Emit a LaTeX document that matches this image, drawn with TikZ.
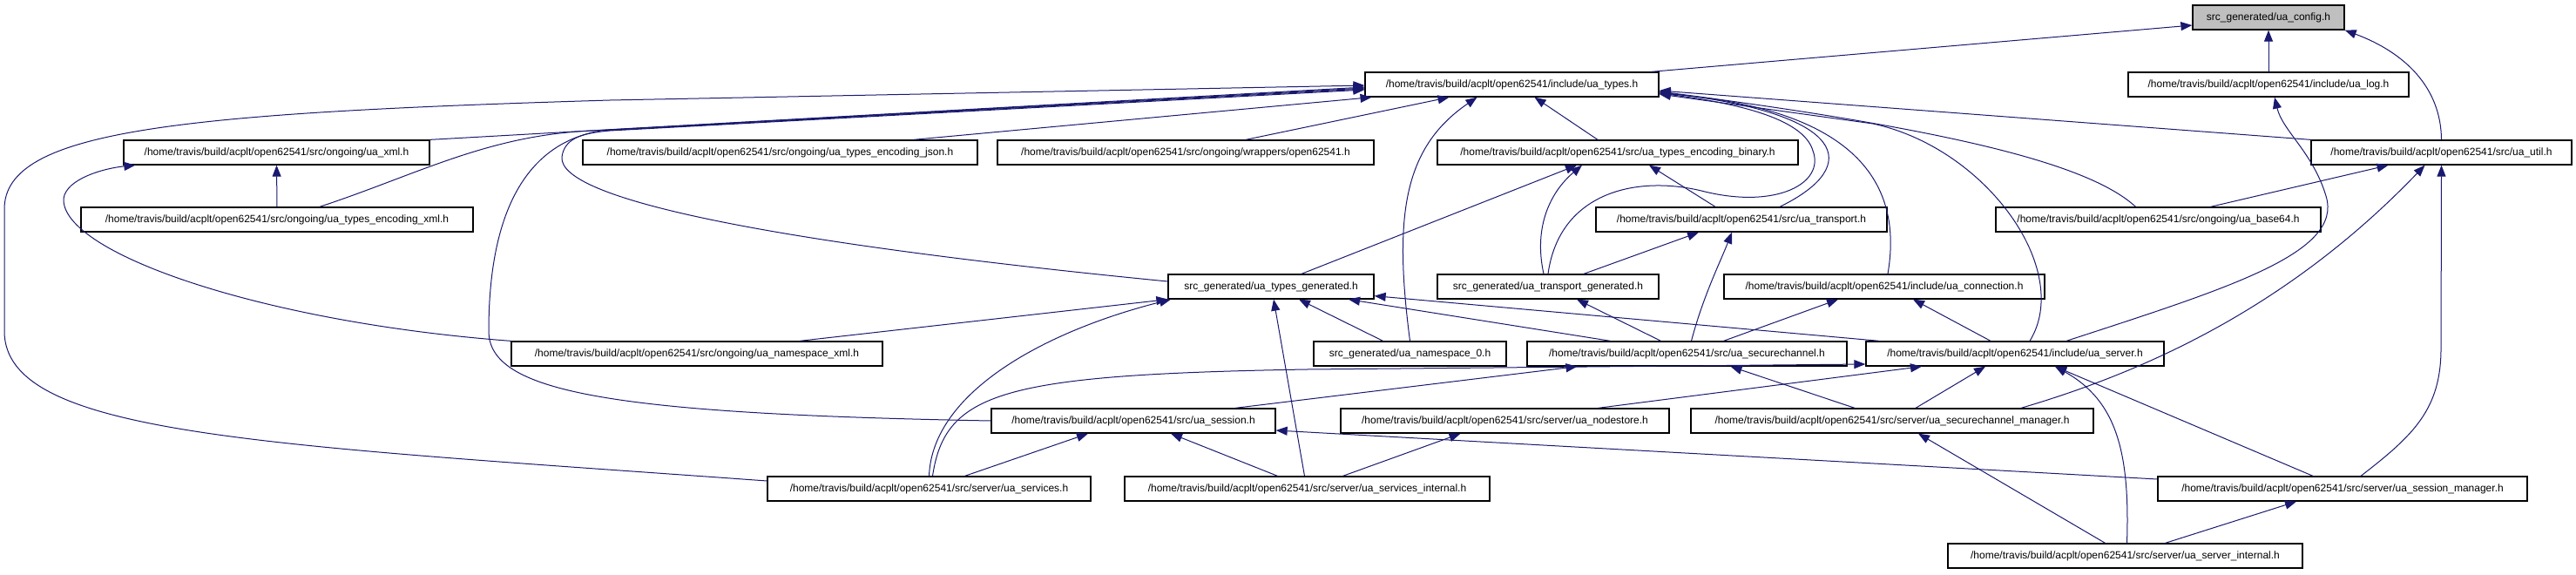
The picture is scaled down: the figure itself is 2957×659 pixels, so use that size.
\documentclass[tikz,border=0pt]{standalone}
\usepackage{fontspec}
\setmainfont{Liberation Sans}
\usepackage{tikz}
\usetikzlibrary{arrows.meta}
\definecolor{incblue}{RGB}{25,25,112}
\definecolor{cfggray}{RGB}{191,191,191}
\tikzset{
  file/.style={draw=black, line width=1.3pt, fill=white, minimum height=28pt,
    inner sep=0pt, font=\fontsize{12}{14}\selectfont},
  inc/.style={draw=incblue, line width=1pt, -{Triangle[length=13pt,width=10pt]}}
}

\begin{document}
\begin{tikzpicture}[x=1pt,y=-1pt]
  \useasboundingbox (0,0) rectangle (2957,659);
  \node[file, fill=cfggray, minimum width=174pt] (config) at (2604,20) {src\_generated/ua\_config.h};
  \node[file, minimum width=337pt] (types) at (1735.5,97) {/home/travis/build/acplt/open62541/include/ua\_types.h};
  \node[file, minimum width=322pt] (log) at (2604,97) {/home/travis/build/acplt/open62541/include/ua\_log.h};
  \node[file, minimum width=351pt] (xml) at (317.5,175) {/home/travis/build/acplt/open62541/src/ongoing/ua\_xml.h};
  \node[file, minimum width=453pt] (json) at (895.5,175) {/home/travis/build/acplt/open62541/src/ongoing/ua\_types\_encoding\_json.h};
  \node[file, minimum width=432pt] (wrappers) at (1361,175) {/home/travis/build/acplt/open62541/src/ongoing/wrappers/open62541.h};
  \node[file, minimum width=414pt] (binary) at (1857,175) {/home/travis/build/acplt/open62541/src/ua\_types\_encoding\_binary.h};
  \node[file, minimum width=299pt] (util) at (2802.5,175) {/home/travis/build/acplt/open62541/src/ua\_util.h};
  \node[file, minimum width=450pt] (encxml) at (318,252) {/home/travis/build/acplt/open62541/src/ongoing/ua\_types\_encoding\_xml.h};
  \node[file, minimum width=334pt] (transport) at (1999,252) {/home/travis/build/acplt/open62541/src/ua\_transport.h};
  \node[file, minimum width=373pt] (base64) at (2477.5,252) {/home/travis/build/acplt/open62541/src/ongoing/ua\_base64.h};
  \node[file, minimum width=236pt] (typesgen) at (1459,329) {src\_generated/ua\_types\_generated.h};
  \node[file, minimum width=254pt] (transgen) at (1777,329) {src\_generated/ua\_transport\_generated.h};
  \node[file, minimum width=368pt] (connection) at (2163,329) {/home/travis/build/acplt/open62541/include/ua\_connection.h};
  \node[file, minimum width=426pt] (nsxml) at (800,406) {/home/travis/build/acplt/open62541/src/ongoing/ua\_namespace\_xml.h};
  \node[file, minimum width=221pt] (ns0) at (1618.5,406) {src\_generated/ua\_namespace\_0.h};
  \node[file, minimum width=367pt] (secch) at (1936.5,406) {/home/travis/build/acplt/open62541/src/ua\_securechannel.h};
  \node[file, minimum width=342pt] (server) at (2313,406) {/home/travis/build/acplt/open62541/include/ua\_server.h};
  \node[file, minimum width=326pt] (session) at (1301,483) {/home/travis/build/acplt/open62541/src/ua\_session.h};
  \node[file, minimum width=377pt] (nodestore) at (1727.5,483) {/home/travis/build/acplt/open62541/src/server/ua\_nodestore.h};
  \node[file, minimum width=462pt] (scmgr) at (2172,483) {/home/travis/build/acplt/open62541/src/server/ua\_securechannel\_manager.h};
  \node[file, minimum width=371pt] (services) at (1066.5,561) {/home/travis/build/acplt/open62541/src/server/ua\_services.h};
  \node[file, minimum width=419pt] (svcint) at (1500.5,561) {/home/travis/build/acplt/open62541/src/server/ua\_services\_internal.h};
  \node[file, minimum width=424pt] (sessmgr) at (2689,561) {/home/travis/build/acplt/open62541/src/server/ua\_session\_manager.h};
  \node[file, minimum width=407pt] (srvint) at (2439.5,638) {/home/travis/build/acplt/open62541/src/server/ua\_server\_internal.h};

  \draw[inc] ([xshift=160pt]types.north) -- ([yshift=-9pt]config.west);
  \draw[inc] (log.north) -- (config.south);
  \draw[inc] (util.north) .. controls (2802,100) and (2760,60) .. (config.south east);

  \draw[inc] (xml.north east) -- ([yshift=-3pt]types.west);
  \draw[inc] ([xshift=49pt]encxml.north) .. controls (480,200) and (560,155) .. (680,150) -- ([yshift=-4pt]types.west);
  \draw[inc] (encxml.north) -- (xml.south);
  \draw[inc] (nsxml.north west) .. controls (300,370) and (70,290) .. (73,228) .. controls (76,205) and (120,193) .. ([xshift=14pt]xml.south west);
  \draw[inc] ([yshift=9pt]services.west) .. controls (300,510) and (5,500) .. (5,380) -- (5,240) .. controls (5,150) and (200,130) .. (700,115) -- ([yshift=-1pt]types.west);
  \draw[inc] (session.west) .. controls (700,475) and (561,450) .. (561,380) .. controls (561,250) and (600,165) .. (690,150) -- ([yshift=-5pt]types.west);
  \draw[inc] ([yshift=6pt]typesgen.west) .. controls (900,280) and (640,230) .. (645,180) .. controls (648,160) and (665,153) .. (700,150) -- ([yshift=-6pt]types.west);
  \draw[inc] ([xshift=153pt]json.north) -- ([xshift=-161pt]types.south);
  \draw[inc] ([xshift=69pt]wrappers.north) -- ([xshift=-72pt]types.south);
  \draw[inc] ([xshift=-23pt]binary.north) -- ([xshift=26pt]types.south);
  \draw[inc] (ns0.north) .. controls (1600,250) and (1610,170) .. ([xshift=-40pt]types.south);
  \draw[inc] (transgen.north) .. controls (1790,220) and (1880,200) .. (1957,220) .. controls (2040,240) and (2095,210) .. (2081,173) .. controls (2070,135) and (1990,118) .. ([yshift=-10pt]types.east);
  \draw[inc] ([xshift=44pt]transport.north) .. controls (2140,190) and (2120,130) .. ([yshift=-9pt]types.east);
  \draw[inc] ([xshift=4pt]connection.north) .. controls (2185,210) and (2130,125) .. ([yshift=-10pt]types.east);
  \draw[inc] ([xshift=17pt]server.north) .. controls (2380,310) and (2280,170) .. (2150,142) -- ([yshift=-11pt]types.east);
  \draw[inc] ([xshift=-26pt]base64.north) .. controls (2400,190) and (2250,150) .. ([yshift=-8pt]types.east);
  \draw[inc] (util.north west) -- ([yshift=-7pt]types.east);
  \draw[inc] ([xshift=60pt]base64.north) -- ([xshift=-61pt]util.south);
  \draw[inc] ([xshift=59pt]server.north) .. controls (2560,330) and (2690,290) .. (2670,225) .. controls (2655,175) and (2620,150) .. ([xshift=7pt]log.south);
  \draw[inc] ([xshift=148pt]scmgr.north) .. controls (2450,430) and (2620,360) .. ([xshift=-19pt]util.south);
  \draw[inc] ([xshift=21pt]sessmgr.north) .. controls (2770,500) and (2802,470) .. (2802,400) -- (util.south);

  \draw[inc] ([xshift=35pt]typesgen.north) -- ([xshift=-47pt]binary.south);
  \draw[inc] ([xshift=-5pt]transgen.north) .. controls (1760,260) and (1780,220) .. ([xshift=-41pt]binary.south);
  \draw[inc] ([xshift=41pt]transgen.north) -- ([xshift=-49pt]transport.south);
  \draw[inc] ([xshift=-30pt]transport.north) -- ([xshift=36pt]binary.south);
  \draw[inc] ([xshift=5pt]secch.north) .. controls (1955,340) and (1975,300) .. ([xshift=-11pt]transport.south);

  \draw[inc] ([xshift=118pt]nsxml.north) -- (typesgen.south west);
  \draw[inc] (services.north) .. controls (1070,450) and (1200,380) .. ([xshift=-115pt]typesgen.south);
  \draw[inc] ([xshift=-3pt]svcint.north) -- ([xshift=3pt]typesgen.south);
  \draw[inc] ([xshift=-31pt]ns0.north) -- ([xshift=32pt]typesgen.south);
  \draw[inc] ([xshift=-88pt]secch.north) -- ([xshift=89pt]typesgen.south);
  \draw[inc] ([xshift=16pt]server.north west) -- ([yshift=4pt]typesgen.south east);
  \draw[inc] ([xshift=-30pt]secch.north) -- ([xshift=33pt]transgen.south);
  \draw[inc] ([xshift=42pt]secch.north) -- ([xshift=-53pt]connection.south);
  \draw[inc] ([xshift=-28pt]server.north) -- ([xshift=33pt]connection.south);

  \draw[inc] ([xshift=117pt]session.north) -- ([xshift=-126pt]secch.south);
  \draw[inc] ([xshift=-43pt]scmgr.north) -- ([xshift=50pt]secch.south);
  \draw[inc] ([xshift=4pt]services.north) .. controls (1085,450) and (1150,430) .. (1500,424) -- ([yshift=-12pt]server.west);
  \draw[inc] ([xshift=107pt]nodestore.north) -- ([xshift=-107pt]server.south);
  \draw[inc] ([xshift=27pt]scmgr.north) -- ([xshift=-34pt]server.south);
  \draw[inc] ([xshift=2pt]srvint.north) .. controls (2445,520) and (2430,460) .. ([xshift=46pt]server.south);
  \draw[inc] ([xshift=-34pt]sessmgr.north) -- ([xshift=46pt]server.south);

  \draw[inc] ([xshift=41pt]services.north) -- ([xshift=-52pt]session.south);
  \draw[inc] ([xshift=-34pt]svcint.north) -- ([xshift=43pt]session.south);
  \draw[inc] ([yshift=11pt]sessmgr.west) -- ([yshift=-11pt]session.east);
  \draw[inc] ([xshift=41pt]svcint.north) -- ([xshift=-51pt]nodestore.south);
  \draw[inc] ([xshift=-23pt]srvint.north) -- ([xshift=30pt]scmgr.south);
  \draw[inc] ([xshift=46pt]srvint.north) -- ([xshift=-53pt]sessmgr.south);
\end{tikzpicture}
\end{document}
